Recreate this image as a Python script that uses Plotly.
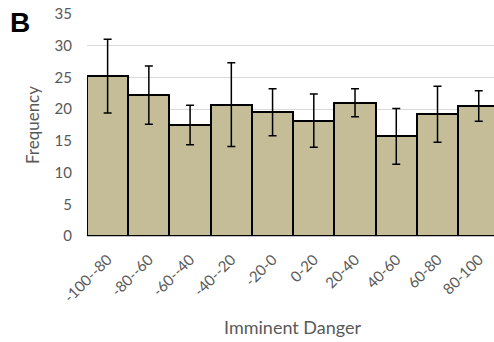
import plotly.graph_objects as go

# Imminent danger bins, mean frequency and error
bins = ["-100--80", "-80--60", "-60--40", "-40--20", "-20-0",
        "0-20", "20-40", "40-60", "60-80", "80-100"]
freq = [25.2, 22.2, 17.5, 20.7, 19.5, 18.2, 21.0, 15.7, 19.2, 20.5]
err = [5.8, 4.6, 3.1, 6.6, 3.7, 4.2, 2.2, 4.4, 4.4, 2.4]

W, H = 494, 342
ml, mt, mb = 87, 14, 106
gray = "#595959"
font = "Lato"

fig = go.Figure(
    go.Bar(
        x=bins,
        y=freq,
        width=1,
        marker=dict(color="#C4BD97", line=dict(color="black", width=2)),
        error_y=dict(type="data", array=err, visible=True,
                     color="black", thickness=1.5, width=4),
    )
)

fig.update_layout(
    width=W, height=H,
    margin=dict(l=ml, r=0, t=mt, b=mb, pad=0),
    plot_bgcolor="white", paper_bgcolor="white",
    showlegend=False,
    bargap=0,
    font=dict(family=font, color=gray),
)

fig.update_xaxes(
    range=[-0.5, 9.37],
    tickangle=-45,
    tickfont=dict(size=15, color=gray, family=font),
    ticklabelstandoff=8,
    showgrid=False,
    showline=True, linecolor="#BFBFBF", linewidth=1,
    ticks="",
)

fig.update_yaxes(
    range=[0, 35],
    dtick=5,
    tickfont=dict(size=15, color=gray, family=font),
    gridcolor="#D9D9D9", gridwidth=1,
    zeroline=False,
    ticks="",
    ticklabelstandoff=14,
    title=dict(text="Frequency", font=dict(size=17, color=gray, family=font),
               standoff=10),
)

fig.add_annotation(
    text="Imminent Danger", xref="paper", yref="paper",
    x=(293 - ml) / (W - ml), y=-(327 - (H - mb)) / (H - mt - mb),
    xanchor="center", yanchor="middle", showarrow=False,
    font=dict(size=18, color=gray, family=font),
)

fig.add_annotation(
    text="<b>B</b>", xref="paper", yref="paper",
    x=-(ml - 8) / (W - ml), y=1 - (5 - mt) / (H - mt - mb),
    xanchor="left", yanchor="top", showarrow=False,
    font=dict(size=28, color="black", family="Liberation Sans"),
)

fig.write_html("out.html")
